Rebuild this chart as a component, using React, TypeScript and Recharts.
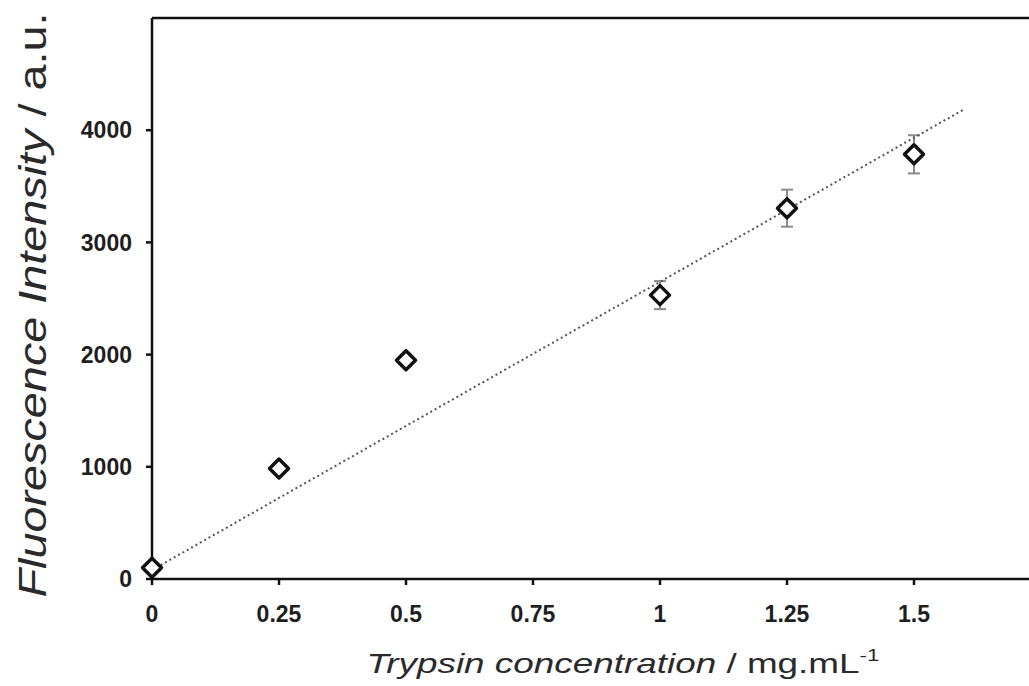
import React from 'react';
import { ScatterChart, Scatter, XAxis, YAxis, ErrorBar, ReferenceLine, Label } from 'recharts';

// Data
const concentrations = [0, 0.25, 0.5, 1, 1.25, 1.5];
const intensities = [100, 985, 1950, 2530, 3305, 3785];
const errors = [0, 0, 50, 125, 165, 170];
const trendX = [0, 1.6];
const trendY = [80, 4190];
const xTicks = [0, 0.25, 0.5, 0.75, 1, 1.25, 1.5];
const yTicks = [0, 1000, 2000, 3000, 4000];

const points = concentrations.map((x, i) => ({ x, y: intensities[i], err: errors[i] }));
const trend = trendX.map((x, i) => ({ x, y: trendY[i] }));

const FONT = '"Liberation Sans", Arial, Helvetica, sans-serif';

const Empty = () => <g />;

const Diamond = (props: any) => {
  const { cx, cy } = props;
  const r = 9.5;
  return (
    <polygon
      points={`${cx},${cy - r} ${cx + r},${cy} ${cx},${cy + r} ${cx - r},${cy}`}
      fill="#fff"
      stroke="#111"
      strokeWidth={3.5}
      strokeLinejoin="round"
    />
  );
};

const XLabel = (props: any) => {
  const vb = props.viewBox || { x: 152, y: 579, width: 889, height: 107 };
  const cx = vb.x + 471;
  const y = vb.y + 94;
  return (
    <text
      x={cx}
      y={y}
      textAnchor="middle"
      fontFamily={FONT}
      fontSize={28}
      fill="#2a2a2a"
      textLength={513}
      lengthAdjust="spacingAndGlyphs"
    >
      <tspan fontStyle="italic">Trypsin concentration</tspan>
      <tspan> / mg.mL</tspan>
      <tspan fontSize={17} dy={-12}>-1</tspan>
    </text>
  );
};

const YLabel = (props: any) => {
  const vb = props.viewBox || { x: 0, y: 18, width: 152, height: 561 };
  const x = vb.x + 46;
  const y = 305;
  return (
    <text
      x={x}
      y={y}
      transform={`rotate(-90, ${x}, ${y})`}
      textAnchor="middle"
      fontFamily={FONT}
      fontSize={39}
      fill="#2a2a2a"
      textLength={585}
      lengthAdjust="spacingAndGlyphs"
    >
      <tspan fontStyle="italic">Fluorescence Intensity</tspan>
      <tspan> / a.u.</tspan>
    </text>
  );
};

const axisStroke = { stroke: '#111', strokeWidth: 2.5 };
const tickStyle = { fill: '#1e1e1e', fontSize: 23, fontWeight: 700, fontFamily: FONT };

export default function App() {
  return (
    <div
      style={{
        position: 'absolute',
        left: 0,
        top: 0,
        width: 1029,
        height: 686,
        overflow: 'hidden',
        background: '#fff',
      }}
    >
      <ScatterChart width={1043} height={686} margin={{ top: 18, right: 2, left: 0, bottom: 0 }}>
        <XAxis
          type="number"
          dataKey="x"
          domain={[0, 1.75]}
          ticks={xTicks}
          height={107}
          tickSize={6}
          tickMargin={21}
          axisLine={axisStroke}
          tickLine={axisStroke}
          tick={tickStyle}
          interval={0}
        >
          <Label content={XLabel} />
        </XAxis>
        <YAxis
          type="number"
          dataKey="y"
          domain={[0, 5000]}
          ticks={yTicks}
          width={152}
          tickSize={6}
          tickMargin={14}
          axisLine={axisStroke}
          tickLine={axisStroke}
          tick={tickStyle}
          interval={0}
        >
          <Label content={YLabel} />
        </YAxis>
        <ReferenceLine y={5000} stroke="#111" strokeWidth={2.5} />
        <Scatter
          data={trend}
          line={{ stroke: '#555', strokeWidth: 2, strokeDasharray: '2 3' }}
          shape={Empty}
          isAnimationActive={false}
        />
        <Scatter data={points} shape={Empty} isAnimationActive={false}>
          <ErrorBar dataKey="err" direction="y" stroke="#8a8a8a" strokeWidth={2} width={6} />
        </Scatter>
        <Scatter data={points} shape={Diamond} isAnimationActive={false} />
      </ScatterChart>
    </div>
  );
}
